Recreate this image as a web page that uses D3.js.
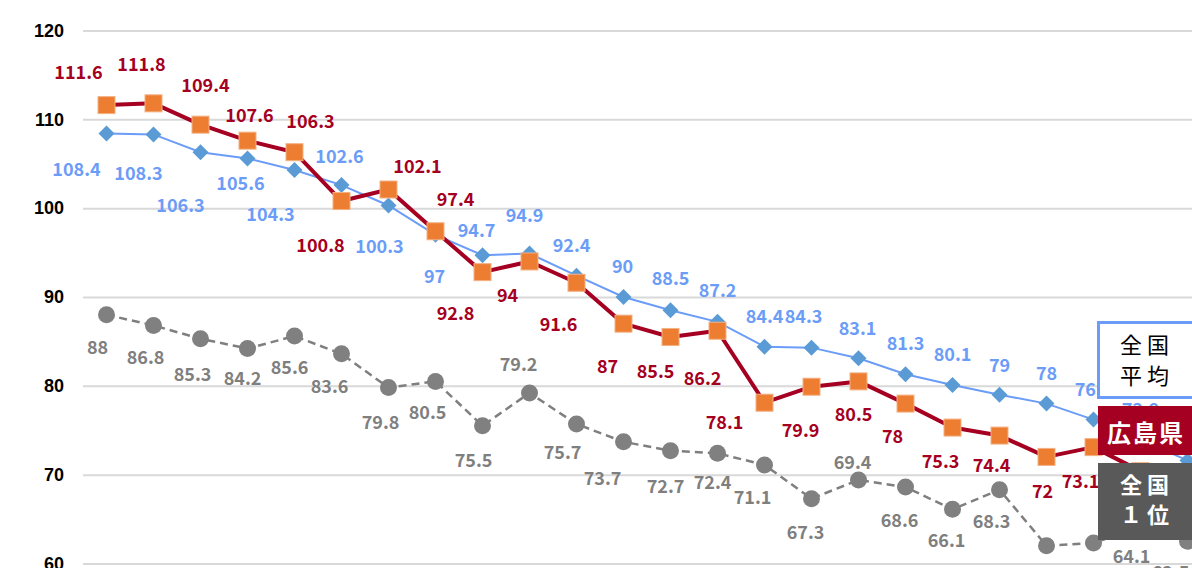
<!DOCTYPE html>
<html><head><meta charset="utf-8">
<script src="https://cdn.jsdelivr.net/npm/d3@7"></script>
<style>body{margin:0;background:#fff}svg{display:block}</style>
</head><body><svg id="c" width="1192" height="568"></svg>
<script>
// ---- data ----
const categories = ["1","2","3","4","5","6","7","8","9","10","11","12","13","14","15","16","17","18","19","20","21","22","23","24"];
const hiroshima = [111.6,111.8,109.4,107.6,106.3,100.8,102.1,97.4,92.8,94,91.6,87,85.5,86.2,78.1,79.9,80.5,78,75.3,74.4,72,73.1,70.4,69.6];
const national  = [108.4,108.3,106.3,105.6,104.3,102.6,100.3,97,94.7,94.9,92.4,90,88.5,87.2,84.4,84.3,83.1,81.3,80.1,79,78,76.2,73.9,71.6];
const topPref   = [88,86.8,85.3,84.2,85.6,83.6,79.8,80.5,75.5,79.2,75.7,73.7,72.7,72.4,71.1,67.3,69.4,68.6,66.1,68.3,62.0,62.3,64.1,62.5];
const yTicks = [60,70,80,90,100,110,120];
const legendNational = ["全国","平均"];
const legendHiroshima = ["広島県"];
const legendTop = ["全国","１位"];

// ---- label placement (layout) ----
const redOff = [[-28,-34],[-12,-40],[5,-41],[2,-27],[16,-32],[-21,43],[29,-25],[20,-33],[-27,40],[-22,33],[-18,40],[-16,41],[-15,33],[-15,46],[-40,18],[-11,42],[-5,32],[-13,31],[-12,32],[-8,28],[-4,33],[-13,33],[-13,33],[-13,33]];
const blueOff = [[-30,34],[-15,38],[-20,52],[-7,24],[-24,43],[-2,-30],[-9,39],[-1,40],[-6,-26],[-5,-39],[-5,-32],[-1,-32],[0,-33],[0,-33],[0,-32],[-8,-33],[-1,-31],[0,-32],[0,-32],[0,-31],[0,-32],[0,-32],[0,-32],[0,-32]];
const grayOff = [[-9,31],[-8,31],[-8,34],[-5,28],[-5,30],[-12,31],[-8,33],[-8,30],[-9,33],[-11,-30],[-14,27],[-21,35],[-5,34],[-5,28],[-12,31],[-6,32],[-6,-19],[-6,32],[-6,30],[-8,30],[-8,30],[-11,30],[-9,28],[-17,30]];

const W = 1192, H = 568;
const svg = d3.select("#c");
const x = d3.scalePoint().domain(categories).range([83, 1211]).padding(0.5);
const y = d3.scaleLinear().domain([60,120]).range([563.5, 30.5]);

const labelFont = "'Noto Sans CJK JP','Noto Sans',sans-serif";

// grid + y axis
const ax = svg.append("g").attr("transform","translate(83,0)")
  .call(d3.axisLeft(y).tickValues(yTicks).tickSizeInner(-(1211-83)).tickSizeOuter(0).tickPadding(19));
ax.select(".domain").remove();
ax.selectAll(".tick line").attr("stroke","#d9d9d9").attr("stroke-width",2);
ax.selectAll(".tick text").attr("fill","#000").style("font-family","'Liberation Sans',Arial,sans-serif")
  .style("font-size","18px").style("font-weight","bold");

function series(vals){ return vals.map((v,i)=>({c:categories[i], v, i})); }
const line = d3.line().x(d=>x(d.c)).y(d=>y(d.v));

// gray (national top) series
const gData = series(topPref);
svg.append("path").datum(gData).attr("d",line).attr("fill","none")
  .attr("stroke","#7f7f7f").attr("stroke-width",2.5).attr("stroke-dasharray","8,5");
svg.append("g").selectAll("circle").data(gData).join("circle")
  .attr("cx",d=>x(d.c)).attr("cy",d=>y(d.v)).attr("r",8.5).attr("fill","#808080");

// blue (national average)
const bData = series(national);
svg.append("path").datum(bData).attr("d",line).attr("fill","none")
  .attr("stroke","#6b9cf7").attr("stroke-width",2);
svg.append("g").selectAll("path").data(bData).join("path")
  .attr("d","M0,-8L8,0L0,8L-8,0Z")
  .attr("transform",d=>`translate(${x(d.c)},${y(d.v)})`).attr("fill","#5b9bd5");

// red (Hiroshima)
const rData = series(hiroshima);
svg.append("path").datum(rData).attr("d",line).attr("fill","none")
  .attr("stroke","#a50021").attr("stroke-width",4).attr("stroke-linejoin","round");
svg.append("g").selectAll("rect").data(rData).join("rect")
  .attr("x",d=>x(d.c)-8.5).attr("y",d=>y(d.v)-8.5).attr("width",17).attr("height",17)
  .attr("fill","#ed7d31").attr("stroke","#f4b183").attr("stroke-width",1);

// labels
function labels(data, off, color){
  svg.append("g").selectAll("text").data(data).join("text")
    .attr("x",d=>x(d.c)+off[d.i][0]).attr("y",d=>y(d.v)+off[d.i][1])
    .attr("text-anchor","middle").attr("dominant-baseline","central")
    .attr("fill",color).style("font-family",labelFont).style("font-size","18px").style("font-weight","bold")
    .text(d=>String(d.v));
}
labels(gData, grayOff, "#7f7f7f");
labels(bData, blueOff, "#6b9cf7");
labels(rData, redOff, "#a50021");

// legend boxes
const lg = svg.append("g");
lg.append("rect").attr("x",1098.5).attr("y",322.5).attr("width",110).attr("height",75)
  .attr("fill","#fff").attr("stroke","#6b9cf7").attr("stroke-width",3);
lg.selectAll("text.n").data(legendNational).join("text").attr("class","n")
  .attr("x",1147).attr("y",(d,i)=>343+i*31).attr("text-anchor","middle").attr("dominant-baseline","central")
  .attr("fill","#000").style("font-family",labelFont).style("font-size","22px").style("letter-spacing","5px").text(d=>d);
lg.append("rect").attr("x",1098).attr("y",406).attr("width",110).attr("height",49).attr("fill","#a50021");
lg.selectAll("text.h").data(legendHiroshima).join("text").attr("class","h")
  .attr("x",1146).attr("y",431).attr("text-anchor","middle").attr("dominant-baseline","central")
  .attr("fill","#fff").style("font-family",labelFont).style("font-size","24px").style("font-weight","bold").style("letter-spacing","2px").text(d=>d);
lg.append("rect").attr("x",1098).attr("y",463).attr("width",110).attr("height",77).attr("fill","#595959");
lg.selectAll("text.t").data(legendTop).join("text").attr("class","t")
  .attr("x",1147).attr("y",(d,i)=>483+i*30).attr("text-anchor","middle").attr("dominant-baseline","central")
  .attr("fill","#fff").style("font-family",labelFont).style("font-size","22px").style("font-weight","bold").style("letter-spacing","5px").text(d=>d);
</script></body></html>
